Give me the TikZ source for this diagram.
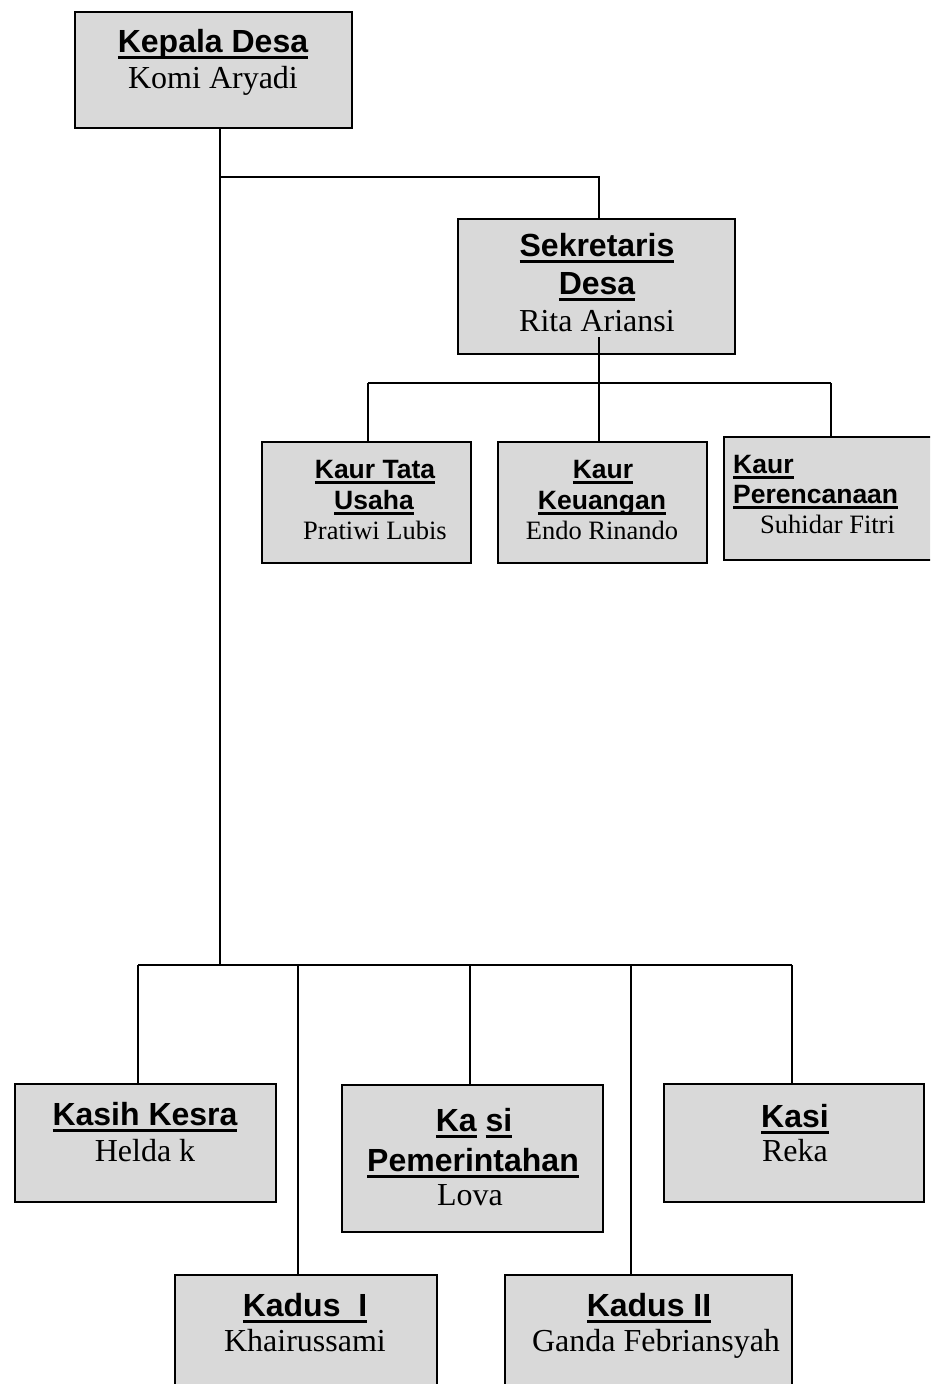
\documentclass[tikz,border=0pt]{standalone}
\usepackage{fontspec}
\setmainfont{Liberation Serif}
\setsansfont{Liberation Sans}
\definecolor{boxgray}{HTML}{D9D9D9}
\newcommand\myul[1]{\setbox0\hbox{#1}\rlap{\rule[-0.22em]{\wd0}{0.09em}}\box0\relax}
\tikzset{
  box/.style={draw=black, line width=1.9pt, fill=boxgray, rectangle, inner sep=0pt},
  conn/.style={draw=black, line width=1.9pt},
  ttl/.style={font=\sffamily\bfseries\fontsize{32}{36}\selectfont, anchor=base, inner sep=0pt},
  nm/.style={font=\fontsize{32}{36}\selectfont, anchor=base, inner sep=0pt},
  ttls/.style={font=\sffamily\bfseries\fontsize{26.5}{30}\selectfont, anchor=base, inner sep=0pt},
  nms/.style={font=\fontsize{26.5}{30}\selectfont, anchor=base, inner sep=0pt},
}
\begin{document}
\begin{tikzpicture}[x=1pt,y=-1pt]
\useasboundingbox (0,0) rectangle (930,1384);
\clip (0,0) rectangle (930,1384);
\fill[white] (0,0) rectangle (930,1384);
% boxes
\node[box, minimum width=277pt, minimum height=116pt] (kd) at (213.5,70) {};
\node[box, minimum width=277pt, minimum height=135pt] (sd) at (596.5,286.5) {};
\node[box, minimum width=209pt, minimum height=121pt] (ktu) at (366.5,502.5) {};
\node[box, minimum width=209pt, minimum height=121pt] (kk) at (602.5,502.5) {};
\node[box, minimum width=216pt, minimum height=123pt] (kp) at (832,498.5) {};
\node[box, minimum width=261pt, minimum height=118pt] (kks) at (145.5,1143) {};
\node[box, minimum width=261pt, minimum height=147pt] (kpm) at (472.5,1158.5) {};
\node[box, minimum width=260pt, minimum height=118pt] (ksi) at (794,1143) {};
\node[box, minimum width=262pt, minimum height=125pt] (kd1) at (306,1337.5) {};
\node[box, minimum width=287pt, minimum height=125pt] (kd2) at (648.5,1337.5) {};
% junctions
\coordinate (t1) at (220,177);
\coordinate (t2) at (599,177);
\coordinate (b0) at (220,965);
\coordinate (s0) at (599,337);
\coordinate (s1) at (599,383);
\coordinate (ha) at (368,383);
\coordinate (hb) at (831,383);
\coordinate (ba) at (138,965);
\coordinate (bb) at (298,965);
\coordinate (bc) at (470,965);
\coordinate (bd) at (631,965);
\coordinate (be) at (792,965);
% connectors
\draw[conn] (kd.south -| t1) -- (b0);
\draw[conn] (t1) -- (t2) -- (sd.north -| t2);
\draw[conn] (s0) -- (s1);
\draw[conn] (ha) -- (hb);
\draw[conn] (ha) -- (ktu.north -| ha);
\draw[conn] (s1) -- (kk.north -| s1);
\draw[conn] (hb) -- (kp.north -| hb);
\draw[conn] (ba) -- (be);
\draw[conn] (ba) -- (kks.north -| ba);
\draw[conn] (bb) -- (kd1.north -| bb);
\draw[conn] (bc) -- (kpm.north -| bc);
\draw[conn] (bd) -- (kd2.north -| bd);
\draw[conn] (be) -- (ksi.north -| be);
% texts
\node[ttl] (kd-t) at (213,52) {\myul{Kepala Desa}};
\node[nm] (kd-n) at (213,88) {Komi Aryadi};
\node[ttl] (sd-t1) at (597,256) {\myul{Sekretaris}};
\node[ttl] (sd-t2) at (597,294) {\myul{Desa}};
\node[nm] (sd-n) at (597,331) {Rita Ariansi};
\node[ttls] (ktu-t1) at (375,478) {\myul{Kaur Tata}};
\node[ttls] (ktu-t2) at (374,509) {\myul{Usaha}};
\node[nms] (ktu-n) at (375,539) {Pratiwi Lubis};
\node[ttls] (kk-t1) at (603,478) {\myul{Kaur}};
\node[ttls] (kk-t2) at (602,509) {\myul{Keuangan}};
\node[nms] (kk-n) at (602,539) {Endo Rinando};
\node[ttls, anchor=base west] (kp-t1) at (733,473) {\myul{Kaur}};
\node[ttls, anchor=base west] (kp-t2) at (733,503) {\myul{Perencanaan}};
\node[nms, anchor=base west] (kp-n) at (760,533) {Suhidar Fitri};
\node[ttl] (kks-t) at (145,1125) {\myul{Kasih Kesra}};
\node[nm] (kks-n) at (145,1161) {Helda k};
\node[ttl] (kpm-t1) at (474,1131) {\myul{Ka}\ \myul{si}};
\node[ttl] (kpm-t2) at (473,1171) {\myul{Pemerintahan}};
\node[nm] (kpm-n) at (470,1205) {Lova};
\node[ttl] (ksi-t) at (795,1127) {\myul{Kasi}};
\node[nm] (ksi-n) at (795,1161) {Reka};
\node[ttl] (kd1-t) at (305,1316) {\myul{Kadus\ \ I}};
\node[nm] (kd1-n) at (305,1351) {Khairussami};
\node[ttl] (kd2-t) at (649,1316) {\myul{Kadus II}};
\node[nm] (kd2-n) at (656,1351) {Ganda Febriansyah};
\end{tikzpicture}
\end{document}
